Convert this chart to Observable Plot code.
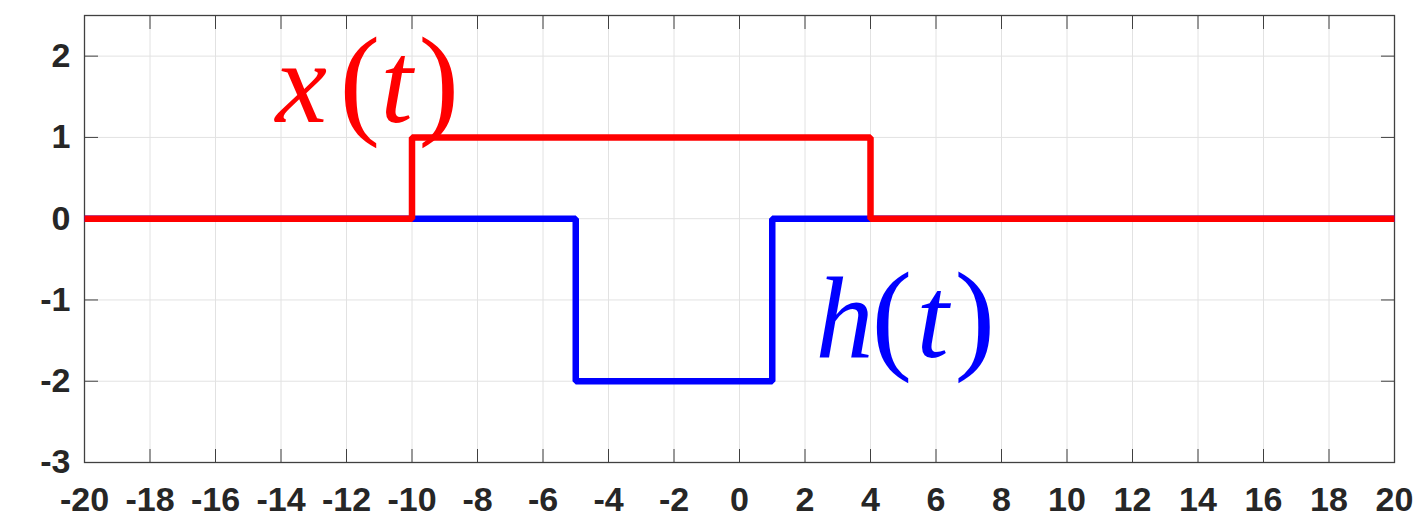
<!DOCTYPE html>
<html>
<head>
<meta charset="utf-8">
<script src="https://cdn.jsdelivr.net/npm/d3@7"></script>
<script src="https://cdn.jsdelivr.net/npm/@observablehq/plot@0.6"></script>
<style>
  html, body { margin: 0; padding: 0; background: #fff; }
</style>
</head>
<body>
<div id="chart"></div>
<script>
// Tick positions along each axis
const tTicks = [-20, -18, -16, -14, -12, -10, -8, -6, -4, -2, 0, 2, 4, 6, 8, 10, 12, 14, 16, 18, 20];
const yTicks = [-3, -2, -1, 0, 1, 2];

// x(t): unit pulse from t = -10 to t = 4 (corner points of the step)
const xSigT = [-20, -10, -10, 4, 4, 20];
const xSigV = [0, 0, 1, 1, 0, 0];

// h(t): pulse of height -2 from t = -5 to t = 1
const hSigT = [-20, -5, -5, 1, 1, 20];
const hSigV = [0, 0, -2, -2, 0, 0];

const xSignal = xSigT.map((t, i) => ({t, v: xSigV[i]}));
const hSignal = hSigT.map((t, i) => ({t, v: hSigV[i]}));

const tickFont = {fontSize: 34, fontWeight: "bold", fontFamily: "'Liberation Sans', Arial, sans-serif", fill: "#262626"};
const noText = () => "";
const gridColor = "#e2e2e2";
const axisColor = "#404040";

// A math-style name such as x(t): italic letters, upright parentheses.
// Each glyph is its own text mark anchored at the same data point, shifted by dx.
function mathName(glyphs, shifts, at, color) {
  return glyphs.map((g, i) => {
    const letter = /[a-z]/.test(g);
    return Plot.text([at], {
      x: "t", y: "v", text: () => g, dx: shifts[i],
      fill: color, textAnchor: "start", lineAnchor: "bottom",
      fontSize: letter ? 116 : 122,
      fontStyle: letter ? "italic" : "normal",
      fontFamily: "'Liberation Serif', 'Times New Roman', serif"
    });
  });
}

const chart = Plot.plot({
  width: 1414,
  height: 518,
  marginLeft: 84,
  marginRight: 20,
  marginTop: 15,
  marginBottom: 56,
  style: {background: "#fff", overflow: "visible"},
  x: {domain: [-20, 20]},
  y: {domain: [-3, 2.5]},
  marks: [
    Plot.gridX(tTicks, {stroke: gridColor, strokeOpacity: 1}),
    Plot.gridY(yTicks, {stroke: gridColor, strokeOpacity: 1}),
    // tick labels
    Plot.axisX(tTicks, {anchor: "bottom", tickSize: 0, tickPadding: 24, tickFormat: d => String(d), label: null, ...tickFont}),
    Plot.axisY(yTicks, {anchor: "left", tickSize: 0, tickPadding: 14, tickFormat: d => String(d), label: null, ...tickFont}),
    // inward tick marks on all four sides
    Plot.axisX(tTicks, {anchor: "bottom", tickSize: 13, dy: -13, tickFormat: noText, label: null, stroke: axisColor}),
    Plot.axisX(tTicks, {anchor: "top", tickSize: 13, dy: 13, tickFormat: noText, label: null, stroke: axisColor}),
    Plot.axisY(yTicks, {anchor: "left", tickSize: 14, dx: 14, tickFormat: noText, label: null, stroke: axisColor}),
    Plot.axisY(yTicks, {anchor: "right", tickSize: 14, dx: -14, tickFormat: noText, label: null, stroke: axisColor}),
    Plot.frame({stroke: axisColor, strokeWidth: 1.3}),
    // signals: h(t) underneath, x(t) on top
    Plot.line(hSignal, {x: "t", y: "v", stroke: "#0000ff", strokeWidth: 6.5, strokeLinejoin: "miter", strokeLinecap: "butt"}),
    Plot.line(xSignal, {x: "t", y: "v", stroke: "#ff0000", strokeWidth: 6.5, strokeLinejoin: "miter", strokeLinecap: "butt"}),
    // signal names
    ...mathName(["x", "(", "t", ")"], [-88, -24, 17, 55], {t: -11.48, v: 1.19}, "#ff0000"),
    ...mathName(["h", "(", "t", ")"], [-86, -30, 15, 53], {t: 4.95, v: -1.70}, "#0000ff")
  ]
});

document.getElementById("chart").appendChild(chart);
</script>
</body>
</html>
